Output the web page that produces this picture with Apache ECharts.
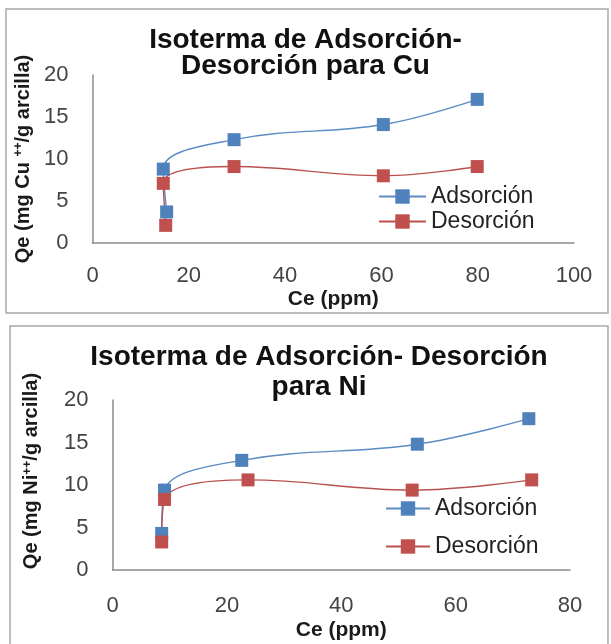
<!DOCTYPE html>
<html>
<head>
<meta charset="utf-8">
<script src="https://cdn.jsdelivr.net/npm/echarts@6/dist/echarts.min.js"></script>
<style>
html,body{margin:0;padding:0;background:#fff;}
#c{width:611px;height:644px;}
</style>
</head>
<body>
<div id="c"></div>
<script>
// ---- Data ----
var seriesNames = ['Adsorción', 'Desorción'];
var cuAdsX = [15.4, 14.7, 29.4, 60.4, 79.9];
var cuAdsY = [3.7, 8.8, 12.3, 14.1, 17.1];
var cuDesX = [15.2, 14.7, 29.4, 60.4, 79.9];
var cuDesY = [2.1, 7.1, 9.1, 8.0, 9.1];
var niAdsX = [8.6, 9.1, 22.6, 53.3, 72.8];
var niAdsY = [4.3, 9.4, 12.9, 14.8, 17.8];
var niDesX = [8.6, 9.1, 23.7, 52.4, 73.3];
var niDesY = [3.3, 8.3, 10.6, 9.4, 10.6];
var titleCu = 'Isoterma de Adsorción-\nDesorción para Cu';
var titleNi = 'Isoterma de Adsorción- Desorción\npara Ni';
var xNameText = 'Ce (ppm)';
var yNameCu = 'Qe (mg Cu {sup|++}/g arcilla)';
var yNameNi = 'Qe (mg Ni{sup|++}/g arcilla)';

function pairs(xs, ys) { return xs.map(function (x, i) { return [x, ys[i]]; }); }

var FONT = "'Liberation Sans', Arial, sans-serif";
var BLUE = '#4f81bd', BLUE_LINE = '#5b8cc4';
var RED = '#c0504d', RED_LINE = '#b9524f';

function xAxis(gi, max, gap, margin) {
  return {
    type: 'value', gridIndex: gi, min: 0, max: max, interval: 20,
    name: xNameText, nameLocation: 'middle', nameGap: gap,
    nameTextStyle: { fontFamily: FONT, fontWeight: 'bold', fontSize: 21, color: '#1a1a1a' },
    axisLine: { show: true, lineStyle: { color: '#8c8c8c', width: 1.5 } },
    axisTick: { show: false }, splitLine: { show: false },
    axisLabel: { fontFamily: FONT, fontSize: 22, color: '#444', margin: margin }
  };
}
function yAxis(gi, name, gap, pad) {
  return {
    type: 'value', gridIndex: gi, min: 0, max: 20, interval: 5,
    name: name, nameLocation: 'middle', nameGap: gap,
    nameTextStyle: {
      fontFamily: FONT, fontWeight: 'bold', fontSize: 20, color: '#1a1a1a', padding: pad,
      rich: { sup: { fontFamily: FONT, fontWeight: 'bold', fontSize: 12, verticalAlign: 'top', color: '#1a1a1a' } }
    },
    axisLine: { show: true, lineStyle: { color: '#8c8c8c', width: 1.5 } },
    axisTick: { show: false }, splitLine: { show: false },
    axisLabel: { fontFamily: FONT, fontSize: 22, color: '#444', margin: 24 }
  };
}
function ser(name, gi, data, color, lineColor) {
  return {
    name: name, type: 'line', xAxisIndex: gi, yAxisIndex: gi,
    data: data, smooth: 0.4, symbol: 'rect', symbolSize: 13,
    lineStyle: { color: lineColor, width: 1.4 },
    itemStyle: { color: color, borderColor: color, borderWidth: 0 },
    emphasis: { disabled: true }, animation: false
  };
}

var chart = echarts.init(document.getElementById('c'), null, { renderer: 'canvas' });
chart.setOption({
  backgroundColor: '#fff',
  animation: false,
  graphic: [
    { type: 'rect', shape: { x: 6, y: 9, width: 602, height: 304 }, style: { fill: 'none', stroke: '#a8a8a8', lineWidth: 1.5 }, z: -1 },
    { type: 'rect', shape: { x: 10, y: 326, width: 598, height: 340 }, style: { fill: 'none', stroke: '#a8a8a8', lineWidth: 1.5 }, z: -1 }
  ],
  title: [
    { text: titleCu, left: 'center', top: 22, textStyle: { fontFamily: FONT, fontWeight: 'bold', fontSize: 28, lineHeight: 26, color: '#111' } },
    { text: titleNi, left: 314, textAlign: 'center', top: 337, textStyle: { fontFamily: FONT, fontWeight: 'bold', fontSize: 28, lineHeight: 30, color: '#111' } }
  ],
  legend: [
    { data: seriesNames, orient: 'vertical', left: 373, top: 180, itemWidth: 47, itemHeight: 18, itemGap: 2,
      textStyle: { fontFamily: FONT, fontSize: 23, color: '#222' }, selectedMode: false },
    { data: seriesNames, orient: 'vertical', left: 380, top: 492, itemWidth: 44, itemHeight: 18, itemGap: 15,
      textStyle: { fontFamily: FONT, fontSize: 23, color: '#222' }, selectedMode: false }
  ],
  grid: [
    { left: 92.5, top: 75, right: 37, bottom: 401, containLabel: false },
    { left: 112.5, top: 400, right: 41, bottom: 74, containLabel: false }
  ],
  xAxis: [ xAxis(0, 100, 46, 22), xAxis(1, 80, 50, 25) ],
  yAxis: [ yAxis(0, yNameCu, 56, [0, 0, 0, 0]), yAxis(1, yNameNi, 71, [0, 0, 0, 28]) ],
  series: [
    ser(seriesNames[0], 0, pairs(cuAdsX, cuAdsY), BLUE, BLUE_LINE),
    ser(seriesNames[1], 0, pairs(cuDesX, cuDesY), RED, RED_LINE),
    ser(seriesNames[0], 1, pairs(niAdsX, niAdsY), BLUE, BLUE_LINE),
    ser(seriesNames[1], 1, pairs(niDesX, niDesY), RED, RED_LINE)
  ]
});
</script>
</body>
</html>
